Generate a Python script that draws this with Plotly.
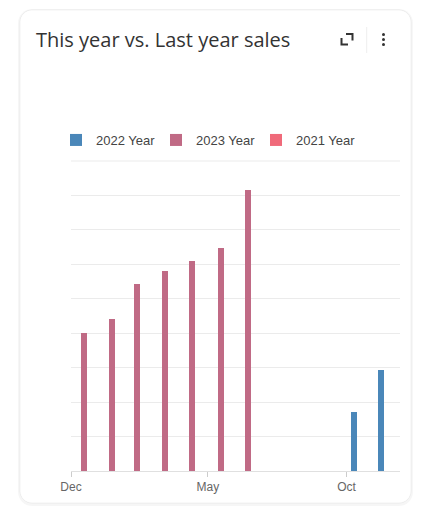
import math
import plotly.graph_objects as go

# ---- data ----
dates_2023 = ["2022-12-15", "2023-01-15", "2023-02-12", "2023-03-15",
              "2023-04-14", "2023-05-15", "2023-06-14"]
sales_2023 = [40, 44, 54.3, 58, 61, 64.8, 81.5]
dates_2022 = ["2023-10-09", "2023-11-08"]
sales_2022 = [17.2, 29.4]
dates_2021 = ["2022-12-15", "2023-01-15"]
sales_2021 = [None, None]

series_names = ["2022 Year", "2023 Year", "2021 Year"]
colors = ["#4a87b9", "#c06a85", "#f06a7a"]
title_text = "This year vs. Last year sales"

BAR_MS = 6.6 * 86400000

W, H = 430, 514
OFF = 8  # page body margin
L, R, T, B = 71 - OFF, 400 - OFF, 161 - OFF, 471 - OFF


def px(x):
    return (x - OFF - L) / (R - L)


def py(y):
    return (B - (y - OFF)) / (B - T)


def rrect(x0, y0, x1, y1, r, n=8):
    pts = []
    corners = [(x1 - r, y0 + r, -90, 0), (x1 - r, y1 - r, 0, 90),
               (x0 + r, y1 - r, 90, 180), (x0 + r, y0 + r, 180, 270)]
    for cx, cy, a0, a1 in corners:
        for i in range(n + 1):
            a = math.radians(a0 + (a1 - a0) * i / n)
            pts.append((cx + r * math.cos(a), cy + r * math.sin(a)))
    return "M" + " L".join(f"{px(x):.5f},{py(y):.5f}" for x, y in pts) + " Z"


fig = go.Figure()
fig.add_trace(go.Bar(x=dates_2022, y=sales_2022, name=series_names[0],
                     marker=dict(color=colors[0], line=dict(width=0)),
                     width=[BAR_MS] * len(dates_2022)))
fig.add_trace(go.Bar(x=dates_2023, y=sales_2023, name=series_names[1],
                     marker=dict(color=colors[1], line=dict(width=0)),
                     width=[BAR_MS] * len(dates_2023)))
fig.add_trace(go.Bar(x=dates_2021, y=sales_2021, name=series_names[2],
                     marker=dict(color=colors[2], line=dict(width=0)),
                     width=[BAR_MS] * len(dates_2021)))

shapes = []
# card shadow + card
shapes.append(dict(type="path", xref="paper", yref="paper", layer="below",
                   path=rrect(18, 9, 413, 506, 14),
                   fillcolor="rgba(0,0,0,0.035)", line=dict(width=0)))
shapes.append(dict(type="path", xref="paper", yref="paper", layer="below",
                   path=rrect(20, 10, 411, 503, 12),
                   fillcolor="#ffffff", line=dict(color="rgba(0,0,0,0.05)", width=1)))
# top grid border line
shapes.append(dict(type="line", xref="paper", yref="paper", layer="below",
                   x0=0, x1=1, y0=1, y1=1,
                   line=dict(color="#ebebeb", width=1)))
# expand icon
shapes.append(dict(type="path", xref="paper", yref="paper",
                   path=f"M{px(341.5):.5f},{py(38):.5f} L{px(341.5):.5f},{py(44.5):.5f} L{px(348):.5f},{py(44.5):.5f}",
                   line=dict(color="#333333", width=2)))
shapes.append(dict(type="path", xref="paper", yref="paper",
                   path=f"M{px(346):.5f},{py(34):.5f} L{px(352.5):.5f},{py(34):.5f} L{px(352.5):.5f},{py(40.5):.5f}",
                   line=dict(color="#333333", width=2)))
# separator
shapes.append(dict(type="line", xref="paper", yref="paper",
                   x0=px(366.7), x1=px(366.7), y0=py(27), y1=py(53),
                   line=dict(color="#eeeeee", width=1)))
# kebab dots
for cy in (34.5, 39.5, 44.5):
    shapes.append(dict(type="circle", xref="paper", yref="paper",
                       x0=px(382), x1=px(385), y0=py(cy - 1.5), y1=py(cy + 1.5),
                       fillcolor="#333333", line=dict(width=0)))

fig.update_layout(
    width=W, height=H,
    margin=dict(l=L, r=W - R, t=T, b=H - B, pad=0),
    paper_bgcolor="#ffffff",
    plot_bgcolor="rgba(0,0,0,0)",
    barmode="overlay",
    bargap=0,
    font=dict(family="Liberation Sans, Arial, sans-serif", color="#444444"),
    title=dict(text=title_text, x=(36 - OFF) / W, xanchor="left", xref="container",
               y=1 - (40 - OFF) / H, yanchor="middle", yref="container",
               font=dict(family="Open Sans", size=20, color="#333333")),
    showlegend=True,
    legend=dict(orientation="h", x=px(56), xanchor="left", y=py(140),
                yanchor="middle", font=dict(size=13, color="#444444"),
                bgcolor="rgba(0,0,0,0)", traceorder="normal",
                entrywidth=55, entrywidthmode="pixels"),
    xaxis=dict(type="date", range=["2022-12-01", "2023-11-29"],
               tickmode="linear", tick0="2022-12-01", dtick="M5",
               tickformat="%b", showgrid=False, showline=True,
               linecolor="#e0e0e0", linewidth=1,
               ticks="outside", ticklen=5, tickcolor="#cccccc",
               tickfont=dict(size=12, color="#666666"),
               zeroline=False, fixedrange=True),
    yaxis=dict(range=[0, 90], dtick=10, tick0=0, showticklabels=False,
               showgrid=True, gridcolor="#ebebeb", gridwidth=1,
               zeroline=False, showline=False, ticks="", fixedrange=True),
    shapes=shapes,
)

fig.write_html("out.html")
